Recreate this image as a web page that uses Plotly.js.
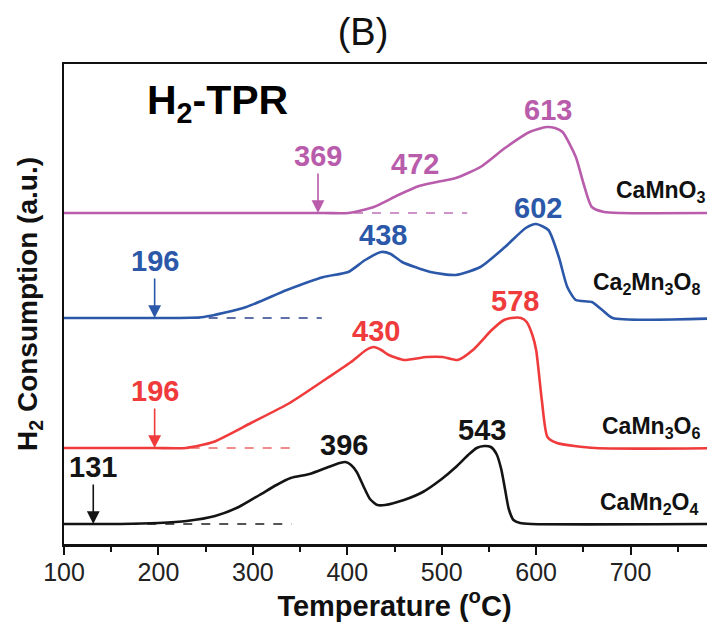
<!DOCTYPE html>
<html><head><meta charset="utf-8">
<script src="https://cdn.plot.ly/plotly-3.0.1.min.js"></script>
<style>
html,body{margin:0;padding:0;overflow:hidden;background:#fff;width:707px;height:631px}
#chart{width:760px;height:631px}
</style>
</head><body><div id="chart"></div>
<script>
// ---------------- data ----------------
const seriesNames = ['CaMn<sub>2</sub>O<sub>4</sub>', 'CaMn<sub>3</sub>O<sub>6</sub>', 'Ca<sub>2</sub>Mn<sub>3</sub>O<sub>8</sub>', 'CaMnO<sub>3</sub>'];

const camn2o4T = [100,160,200,230,260,285,307,325,340,360,380,392,398,404,410,417,424,432,440,460,480,500,515,528,537,545,552,558,563,567,571,576,583,595,800];
const camn2o4Y = [20,20,21,23,28,37,49,59,66,70,77,81,82,79,72,58,45,39,39,44,52,65,77,89,96,98,97,90,75,55,35,24,21,20,20];

const camn3o6T = [100,196,229,258,298,339,379,404,420,428,436,444,460,484,501,517,533,553,566,574,584,590,596,600,606,612,622,663,800];
const camn3o6Y = [96,96,96,102,121,141,166,182,194,197,194,189,184,187,187,184,194,214,224,226,226,222,209,194,144,107,101,96,96];

const ca2mn3o8T = [100,196,248,293,336,375,401,419,436,446,458,488,515,541,567,589,600,613,624,633,642,659,670,681,800];
const ca2mn3o8Y = [226,226,227,237,254,267,272,284,292,290,282,272,269,277,297,316,320,314,287,257,244,242,234,226,226];

const camno3T = [100,375,401,428,454,476,495,515,541,567,593,611,620,628,642,650,659,672,690,800];
const camno3Y = [331,331,331,337,349,358,362,366,377,396,412,417,416,412,387,361,337,332,331,331];

const onsetT = [131, 196, 196, 369];
const baselineY = [20, 96, 226, 331];
const dashEndT = [341, 345, 373, 527];
const peakT = [[396, 543], [430, 578], [438, 602], [472, 613]];

const xTickVals = [100, 200, 300, 400, 500, 600, 700];
const xTickText = ['100', '200', '300', '400', '500', '600', '700'];

// ---------------- styles ----------------
const FONT = '"Liberation Sans", Arial, Helvetica, sans-serif';
const colors = ['#141414', '#ef3b3b', '#2b58a8', '#b85cab'];
const dashColors = ['#555555', '#f28a8a', '#5f6fa8', '#cf93c9'];
const nameLabelT = [665, 668, 658, 682];
const nameLabelShift = [21, 21, 35, 22];

const Ts = [camn2o4T, camn3o6T, ca2mn3o8T, camno3T];
const Ys = [camn2o4Y, camn3o6Y, ca2mn3o8Y, camno3Y];

function interp(xs, ys, x) {
  for (let i = 0; i < xs.length - 1; i++) {
    if (x >= xs[i] && x <= xs[i + 1]) {
      const f = (x - xs[i]) / (xs[i + 1] - xs[i]);
      return ys[i] + f * (ys[i + 1] - ys[i]);
    }
  }
  return ys[ys.length - 1];
}

const traces = [];
for (let i = 0; i < 4; i++) {
  traces.push({
    x: [onsetT[i], dashEndT[i]], y: [baselineY[i], baselineY[i]],
    mode: 'lines', line: {color: dashColors[i], width: 2, dash: '9px,9px'},
    hoverinfo: 'skip', showlegend: false
  });
}
for (let i = 0; i < 4; i++) {
  traces.push({
    x: Ts[i], y: Ys[i], name: seriesNames[i],
    mode: 'lines', line: {color: colors[i], width: 2.6, shape: 'spline', smoothing: 0.6},
    showlegend: false
  });
}

const annotations = [];
for (let i = 0; i < 4; i++) {
  annotations.push({
    x: onsetT[i], y: baselineY[i], xref: 'x', yref: 'y',
    text: String(onsetT[i]), showarrow: true, arrowhead: 2, arrowsize: 1.6, arrowwidth: 1.6,
    arrowcolor: colors[i], ax: 0, ay: -57, standoff: 0,
    font: {family: FONT, size: 29, color: colors[i], weight: 'bold'}
  });
  peakT[i].forEach(p => {
    annotations.push({
      x: p, y: interp(Ts[i], Ys[i], p), xref: 'x', yref: 'y',
      text: String(p), showarrow: false, yanchor: 'bottom', yshift: (i === 3 && p === 472) ? 6 : -1,
      font: {family: FONT, size: 29, color: colors[i], weight: 'bold'}
    });
  });
  annotations.push({
    x: nameLabelT[i], y: baselineY[i], xref: 'x', yref: 'y', xanchor: 'left', yanchor: 'middle',
    yshift: nameLabelShift[i], text: seriesNames[i], showarrow: false,
    font: {family: FONT, size: 23, color: '#111', weight: 'bold'}
  });
}
annotations.push({
  x: 186, y: 441, xref: 'x', yref: 'y', xanchor: 'left', yanchor: 'middle',
  text: 'H<sub>2</sub>-TPR', showarrow: false,
  font: {family: FONT, size: 41, color: '#000', weight: 'bold'}
});

const layout = {
  width: 760, height: 631,
  margin: {l: 64, r: 35, t: 64, b: 87},
  paper_bgcolor: '#fff', plot_bgcolor: '#fff',
  title: {text: '(B)', x: 363 / 760, xanchor: 'center', y: 1 - 32 / 631, yanchor: 'middle',
          font: {family: FONT, size: 38, color: '#111'}},
  font: {family: FONT, color: '#111'},
  xaxis: {
    range: [100, 800], tickvals: xTickVals, ticktext: xTickText,
    ticks: 'outside', ticklen: 8, tickwidth: 2, tickcolor: '#111',
    minor: {dtick: 50, tick0: 100, ticks: 'outside', ticklen: 5, tickwidth: 2, tickcolor: '#111'},
    showline: true, linewidth: 2.5, linecolor: '#111', mirror: true,
    showgrid: false, zeroline: false,
    ticklabelstandoff: -4,
    tickfont: {family: FONT, size: 25, color: '#222'},
    title: {text: 'Temperature (<sup>o</sup>C)', standoff: 8,
            font: {family: FONT, size: 29, color: '#111', weight: 'bold'}}
  },
  yaxis: {
    range: [0, 480], showticklabels: false, ticks: '',
    showline: true, linewidth: 2.5, linecolor: '#111', mirror: true,
    showgrid: false, zeroline: false,
    title: {text: 'H<sub>2</sub> Consumption (a.u.)', standoff: 16,
            font: {family: FONT, size: 28, color: '#111', weight: 'bold'}}
  },
  annotations: annotations
};

Plotly.newPlot('chart', traces, layout, {staticPlot: true, displayModeBar: false});
</script>
</body></html>
